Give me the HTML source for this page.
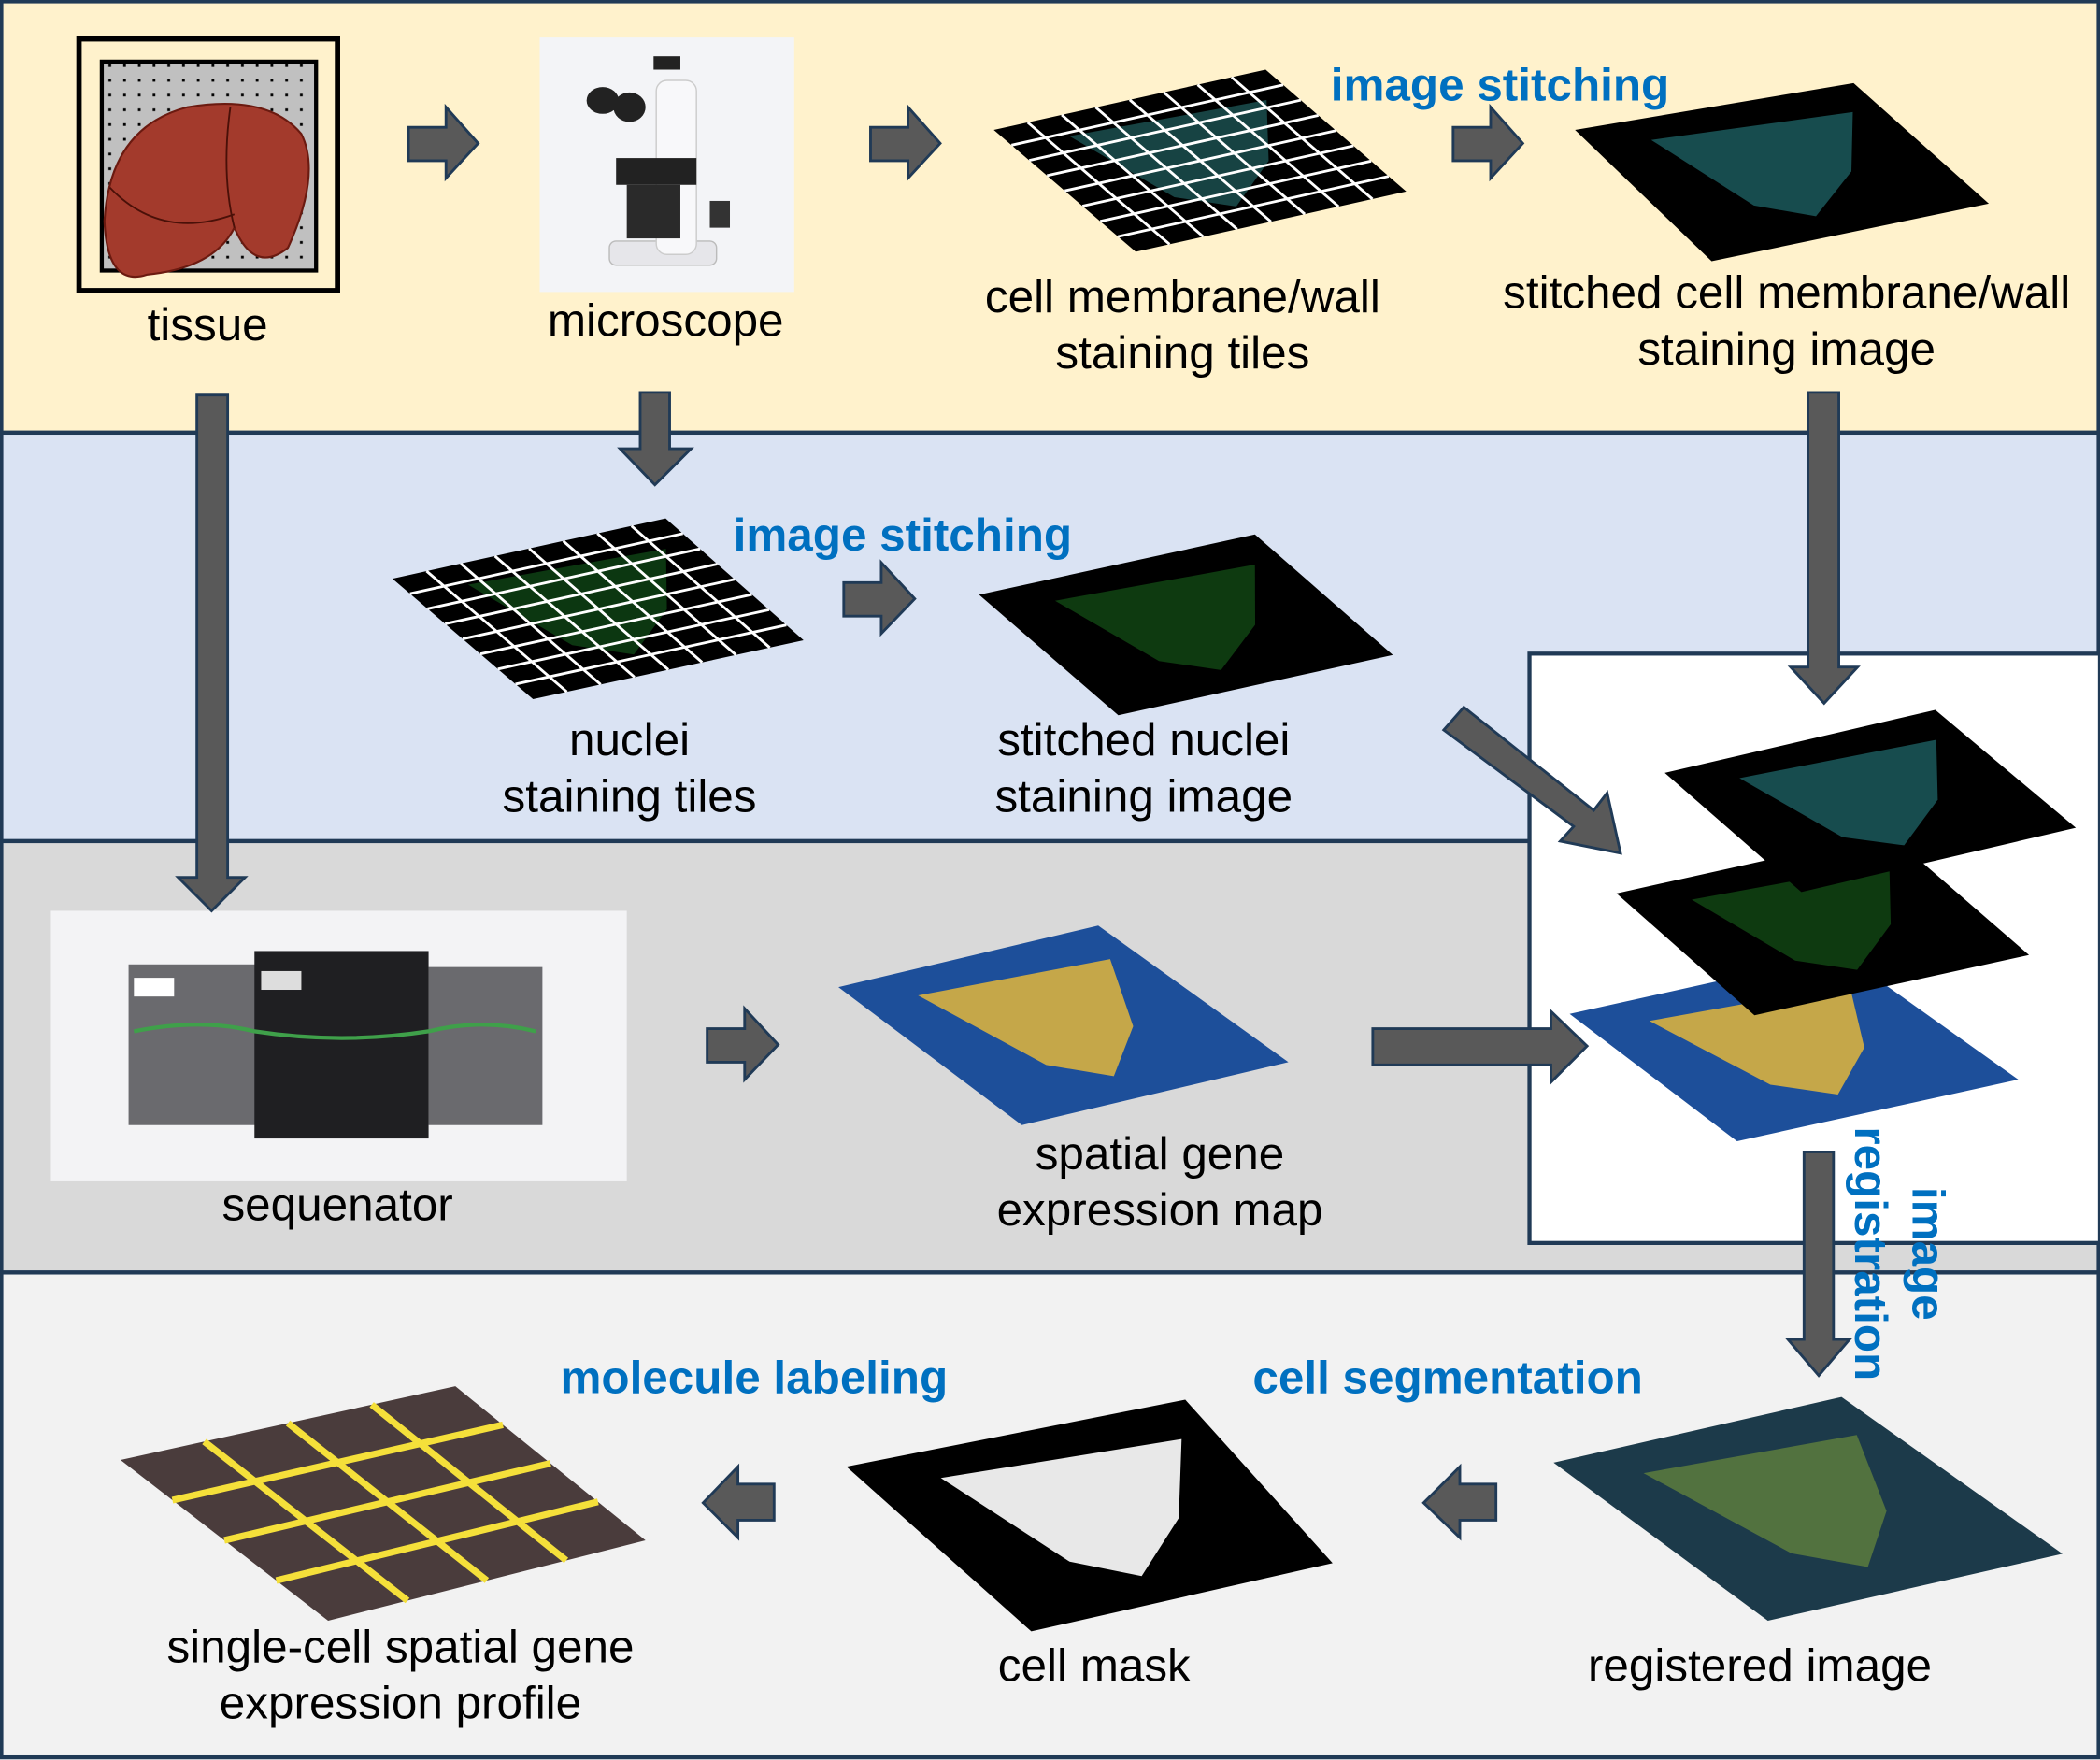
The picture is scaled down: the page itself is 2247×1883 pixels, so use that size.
<!DOCTYPE html>
<html><head><meta charset="utf-8"><style>
html,body{margin:0;padding:0;background:#fff;}
svg{display:block;}
text{font-family:"Liberation Sans",Arial,sans-serif;}
.lbl{font-size:34.5px;fill:#000;text-anchor:middle;}
.blue{font-size:34.5px;fill:#0070c0;font-weight:bold;text-anchor:middle;}
.arr{fill:#595959;stroke:#203a56;stroke-width:2;}
</style></head><body>
<svg id="s" width="2247" height="1883" viewBox="0 0 1568 1314" preserveAspectRatio="none" xmlns="http://www.w3.org/2000/svg">
<defs>
<pattern id="dots" width="11" height="11" patternUnits="userSpaceOnUse"><rect width="11" height="11" fill="#c0c0c0"/><rect x="4" y="4" width="2" height="2" fill="#000"/></pattern>
</defs>
<rect x="1" y="1" width="1566" height="322" fill="#fff2cc" stroke="#203a56" stroke-width="3"/>
<rect x="1" y="323" width="1566" height="305" fill="#dae3f3" stroke="#203a56" stroke-width="3"/>
<rect x="1" y="628" width="1566" height="322" fill="#d9d9d9" stroke="#203a56" stroke-width="3"/>
<rect x="1" y="950" width="1566" height="362" fill="#f2f2f2" stroke="#203a56" stroke-width="3"/>
<rect x="1142" y="488" width="426" height="440" fill="#fff" stroke="#203a56" stroke-width="3"/>

<g>
<rect x="59" y="29" width="193" height="188" fill="#fff2cc" stroke="#000" stroke-width="4"/>
<rect x="76" y="46" width="160" height="156" fill="url(#dots)" stroke="#000" stroke-width="3"/>
<path d="M140 80 Q200 70 225 100 Q240 130 215 185 Q190 205 175 170 Q160 200 110 205 Q80 215 78 165 Q82 95 140 80Z" fill="#a33a2c" stroke="#6b1a10" stroke-width="1.5"/>
<path d="M172 80 Q165 130 175 170 M82 140 Q120 180 175 160" fill="none" stroke="#4a1008" stroke-width="1.3"/>
</g>
<text class="lbl" x="155" y="254">tissue</text>

<g>
<rect x="403" y="28" width="190" height="190" fill="#f3f4f7"/>
<rect x="455" y="180" width="80" height="18" rx="5" fill="#e6e6ea" stroke="#bbb"/>
<rect x="490" y="60" width="30" height="130" rx="8" fill="#f8f8fa" stroke="#ccc"/>
<rect x="488" y="42" width="20" height="10" fill="#222"/>
<ellipse cx="450" cy="75" rx="12" ry="10" fill="#222"/><ellipse cx="470" cy="80" rx="12" ry="11" fill="#222"/>
<rect x="460" y="118" width="60" height="20" fill="#222"/>
<rect x="468" y="138" width="40" height="40" fill="#2a2a2a"/>
<rect x="530" y="150" width="15" height="20" fill="#333"/>
</g>
<text class="lbl" x="497" y="251">microscope</text>

<g id="quads"></g>

<g>
<rect x="38" y="680" width="430" height="202" fill="#f3f3f5"/>
<rect x="96" y="720" width="100" height="120" fill="#6a6a6e"/>
<rect x="320" y="722" width="85" height="118" fill="#6a6a6e"/>
<rect x="190" y="710" width="130" height="140" fill="#1f1f22"/>
<rect x="100" y="730" width="30" height="14" fill="#fff"/>
<rect x="195" y="725" width="30" height="14" fill="#ddd"/>
<path d="M100 770 Q150 760 190 770 Q255 780 320 770 Q360 760 400 770" fill="none" stroke="#3fa04a" stroke-width="3"/>
</g>
<text class="lbl" x="252" y="911">sequenator</text>

<polygon class="arr" points="305,95 333,95 333,80 357,107 333,133 333,120 305,120"/>
<polygon class="arr" points="650,95 678,95 678,80 702,107 678,133 678,120 650,120"/>
<polygon class="arr" points="1085,95 1113,95 1113,80 1137,107 1113,133 1113,120 1085,120"/>
<polygon class="arr" points="147,295 170,295 170,655 183,655 158,680 133,655 147,655"/>
<polygon class="arr" points="478,293 500,293 500,335 516,335 489,362 463,335 478,335"/>
<polygon class="arr" points="1350,293 1373,293 1373,498 1387,498 1362,525 1337,498 1350,498"/>
<polygon class="arr" points="630,435 658,435 658,420 683,447 658,473 658,460 630,460"/>
<polygon class="arr" points="1078,545 1093,528 1190,605 1200,592 1210,637 1165,628 1175,617"/>
<polygon class="arr" points="528,768 556,768 556,753 581,780 556,806 556,793 528,793"/>
<polygon class="arr" points="1025,768 1158,768 1158,755 1185,781 1158,808 1158,795 1025,795"/>
<polygon class="arr" points="1347,860 1369,860 1369,1000 1381,1000 1358,1027 1335,1000 1347,1000"/>
<polygon class="arr" points="1117,1108 1090,1108 1090,1095 1063,1122 1090,1148 1090,1135 1117,1135"/>
<polygon class="arr" points="578,1108 551,1108 551,1095 525,1122 551,1148 551,1135 578,1135"/>

<text class="lbl" x="883" y="233">cell membrane/wall</text>
<text class="lbl" x="883" y="275">staining tiles</text>
<text class="blue" x="1120" y="75">image stitching</text>
<text class="lbl" x="1334" y="230">stitched cell membrane/wall</text>
<text class="lbl" x="1334" y="272">staining image</text>
<text class="blue" x="674" y="411">image stitching</text>
<text class="lbl" x="470" y="564">nuclei</text>
<text class="lbl" x="470" y="606">staining tiles</text>
<text class="lbl" x="854" y="564">stitched nuclei</text>
<text class="lbl" x="854" y="606">staining image</text>
<text class="lbl" x="866" y="873">spatial gene</text>
<text class="lbl" x="866" y="915">expression map</text>
<g transform="translate(1418,936) rotate(90)">
<text class="blue" x="0" y="-10">image</text>
<text class="blue" x="0" y="33">registration</text>
</g>
<text class="blue" x="563" y="1040">molecule labeling</text>
<text class="blue" x="1081" y="1040">cell segmentation</text>
<text class="lbl" x="299" y="1241">single-cell spatial gene</text>
<text class="lbl" x="299" y="1283">expression profile</text>
<text class="lbl" x="817" y="1255">cell mask</text>
<text class="lbl" x="1314" y="1255">registered image</text>
</svg>
<script>
const NS='http://www.w3.org/2000/svg';
const g=document.getElementById('quads');
function P(q,u,v){const a=q[0],b=q[1],c=q[2],d=q[3];
 const x=(1-v)*((1-u)*a[0]+u*b[0])+v*((1-u)*d[0]+u*c[0]);
 const y=(1-v)*((1-u)*a[1]+u*b[1])+v*((1-u)*d[1]+u*c[1]);return [x,y];}
function poly(q,fill,name){const p=document.createElementNS(NS,'polygon');
 p.setAttribute('points',q.map(t=>t.join(',')).join(' '));p.setAttribute('fill',fill);
 
 
 g.appendChild(p);}
function blob(q,fill,name,pts,op){const p=document.createElementNS(NS,'polygon');
 p.setAttribute('points',pts.map(t=>P(q,t[0],t[1]).join(',')).join(' '));p.setAttribute('fill',fill);
 p.setAttribute('opacity',op||1);
 
 
 g.appendChild(p);}
function grid(q,n,name){let d='';for(let i=1;i<n;i++){const t=i/n;
 let s=P(q,t,0),e=P(q,t,1);d+='M'+s+'L'+e;s=P(q,0,t);e=P(q,1,t);d+='M'+s+'L'+e;}
 const p=document.createElementNS(NS,'path');p.setAttribute('d',d);p.setAttribute('stroke','#fff');p.setAttribute('stroke-width','2');
 
 
 g.appendChild(p);}
const tri=[[0.2,0.15],[0.9,0.2],[0.7,0.6],[0.45,0.85],[0.3,0.7]];
function tile(q,col,name){poly(q,'#000',name);blob(q,col,name+'-tissue',tri,0.4);grid(q,8,name+'-grid');}
function stitched(q,col,name){poly(q,'#000',name);blob(q,col,name+'-tissue',tri,0.55);}
tile([[742,97],[945,52],[1050,143],[848,188]],'#3aa8a8','membrane-tiles');
stitched([[1176,97],[1384,62],[1485,152],[1278,195]],'#2a8a8e','stitched-membrane');
tile([[293,432],[497,387],[600,478],[398,522]],'#1e8a2a','nuclei-tiles');
stitched([[731,444],[937,399],[1040,489],[835,534]],'#1a6a1e','stitched-nuclei');
poly([[1172,757],[1375,712],[1507,806],[1297,852]],'#1d4f9a','stack-gene-map');
blob([[1172,757],[1375,712],[1507,806],[1297,852]],'#d8b040','stack-gene-tissue',tri,0.9);
stitched([[1207,667],[1410,622],[1515,713],[1310,758]],'#1a6a1e','stack-nuclei');
stitched([[1243,577],[1445,530],[1550,618],[1345,666]],'#2a8a8e','stack-membrane');
poly([[626,737],[820,691],[962,793],[763,840]],'#1d4f9a','gene-map');
blob([[626,737],[820,691],[962,793],[763,840]],'#d8b040','gene-map-tissue',tri,0.9);
poly([[1160,1092],[1375,1043],[1540,1160],[1320,1210]],'#1c3a4a','registered-image');
blob([[1160,1092],[1375,1043],[1540,1160],[1320,1210]],'#6a8a3a','registered-tissue',tri,0.7);
poly([[632,1095],[885,1045],[995,1167],[770,1218]],'#000','cell-mask');
blob([[632,1095],[885,1045],[995,1167],[770,1218]],'#e8e8e8','cell-mask-tissue',tri,1);
const sq=[[90,1090],[340,1035],[482,1150],[245,1210]];
poly(sq,'#4a3c3c','single-cell-profile');
let d='';
for(let i=1;i<4;i++){const t=i/4;let s=P(sq,t,0),e=P(sq,t,1);d+='M'+s+'L'+e;s=P(sq,0,t);e=P(sq,1,t);d+='M'+s+'L'+e;}
const cp=document.createElementNS(NS,'path');cp.setAttribute('d',d);cp.setAttribute('stroke','#f5e03a');cp.setAttribute('stroke-width','5');cp.setAttribute('fill','none');


g.appendChild(cp);
</script>
</body></html>
